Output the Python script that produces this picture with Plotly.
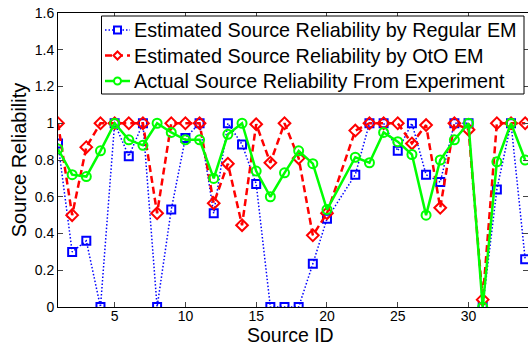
import plotly.graph_objects as go

source_id = [1, 2, 3, 4, 5, 6, 7, 8, 9, 10, 11, 12, 13, 14, 15, 16, 17, 18, 19, 20,
             22, 23, 24, 25, 26, 27, 28, 29, 30, 31, 32, 33, 34]

regular_em = [0.89, 0.30, 0.36, 0.00, 1.00, 0.82, 1.00, 0.00, 0.53, 0.92, 1.00, 0.51,
              1.00, 0.885, 0.67, 0.00, 0.00, 0.00, 0.235, 0.48,
              0.72, 1.00, 1.00, 0.85, 1.00, 0.72, 0.68, 1.00, 1.00, 0.00, 0.64, 1.00, 0.26]

oto_em = [1.00, 0.50, 0.87, 1.00, 1.00, 1.00, 1.00, 0.51, 1.00, 1.00, 1.00, 0.565,
          0.78, 0.445, 0.995, 0.785, 1.00, 0.81, 0.39, 0.51,
          0.96, 1.00, 1.00, 1.00, 0.89, 0.99, 0.54, 1.00, 0.965, 0.04, 1.00, 1.00, 1.00]

actual = [0.86, 0.72, 0.71, 0.85, 1.00, 0.91, 0.88, 1.00, 0.95, 0.91, 0.91, 0.70,
          0.94, 1.00, 0.74, 0.60, 0.73, 0.85, 0.78, 0.53,
          0.815, 0.785, 0.95, 0.90, 0.83, 0.50, 0.80, 0.91, 1.00, 0.00, 0.79, 1.00, 0.80]

x_ticks = [5, 10, 15, 20, 25, 30]
y_ticks = [0, 0.2, 0.4, 0.6, 0.8, 1.0, 1.2, 1.4, 1.6]
y_tick_labels = ["0", "0.2", "0.4", "0.6", "0.8", "1", "1.2", "1.4", "1.6"]

names = ["Estimated Source Reliability by Regular EM",
         "Estimated Source Reliability by OtO EM",
         "Actual Source Reliability From Experiment"]
x_title = "Source ID"
y_title = "Source Reliability"

FONT = "Liberation Sans, Arial, Helvetica, sans-serif"
BLUE, RED, GREEN = "rgb(0,0,255)", "rgb(255,0,0)", "rgb(0,255,0)"
DOT, DASH = "1.5px,2px", "7px,4px"

W, H = 528, 347
ML, MR, MT, MB = 58, 0, 13, 40
PW, PH = W - ML - MR, H - MT - MB


def px(x):
    return (x - ML) / PW


def py(y):
    return (H - MB - y) / PH


fig = go.Figure()
fig.add_trace(go.Scatter(
    x=source_id, y=regular_em, name=names[0], mode="lines+markers",
    line=dict(color=BLUE, width=1.5, dash=DOT),
    marker=dict(symbol="square-open", size=8, color=BLUE, line=dict(width=2))))
fig.add_trace(go.Scatter(
    x=source_id, y=oto_em, name=names[1], mode="lines+markers",
    line=dict(color=RED, width=2.5, dash=DASH),
    marker=dict(symbol="diamond-open", size=9, color=RED, line=dict(width=2))))
fig.add_trace(go.Scatter(
    x=source_id, y=actual, name=names[2], mode="lines+markers",
    line=dict(color=GREEN, width=2.5),
    marker=dict(symbol="circle-open", size=9, color=GREEN, line=dict(width=2))))

# legend drawn as shapes + annotations (MATLAB style, compact)
shapes = [dict(type="rect", xref="paper", yref="paper", layer="above",
               x0=px(101.5), x1=px(524), y0=py(94), y1=py(16),
               line=dict(color="black", width=1), fillcolor="white")]
annotations = []
rows = [30, 55.5, 81]
styles = [(BLUE, 1.5, DOT), (RED, 2.5, DASH), (GREEN, 2.5, "solid")]
for i, (ry, (col, lw, dsh)) in enumerate(zip(rows, styles)):
    shapes.append(dict(type="line", xref="paper", yref="paper", layer="above",
                       x0=px(105), x1=px(130), y0=py(ry), y1=py(ry),
                       line=dict(color=col, width=lw, dash=dsh)))
    cx, r = 117.5, 3.5
    if i == 0:
        shapes.append(dict(type="rect", xref="paper", yref="paper", layer="above",
                           x0=px(cx - r), x1=px(cx + r), y0=py(ry + r), y1=py(ry - r),
                           line=dict(color=col, width=2), fillcolor="white"))
    elif i == 1:
        path = "M {a},{b} L {c},{d} L {e},{b} L {c},{f} Z".format(
            a=px(cx - r - 0.5), b=py(ry), c=px(cx), d=py(ry - r - 0.5),
            e=px(cx + r + 0.5), f=py(ry + r + 0.5))
        shapes.append(dict(type="path", xref="paper", yref="paper", layer="above",
                           path=path, line=dict(color=col, width=2), fillcolor="white"))
    else:
        shapes.append(dict(type="circle", xref="paper", yref="paper", layer="above",
                           x0=px(cx - r), x1=px(cx + r), y0=py(ry + r), y1=py(ry - r),
                           line=dict(color=col, width=2), fillcolor="white"))
    annotations.append(dict(text=names[i], xref="paper", yref="paper",
                            x=px(131.5), y=py(ry), xanchor="left", yanchor="middle",
                            showarrow=False, font=dict(size=19.8, family=FONT, color="black")))

annotations.append(dict(text=x_title, xref="paper", yref="paper",
                        x=px(290), y=py(335), xanchor="center", yanchor="middle",
                        showarrow=False, font=dict(size=19.5, family=FONT, color="black")))

fig.update_layout(
    width=W, height=H,
    margin=dict(l=ML, r=MR, t=MT, b=MB),
    paper_bgcolor="white", plot_bgcolor="white",
    font=dict(family=FONT, color="black", size=14),
    showlegend=False,
    shapes=shapes, annotations=annotations,
    xaxis=dict(range=[1, 34.2], tickvals=x_ticks, ticks="inside", ticklen=5,
               showline=True, linecolor="black", linewidth=1, mirror="ticks",
               showgrid=False, zeroline=False, tickfont=dict(size=14),
               ticklabelstandoff=-4),
    yaxis=dict(range=[0, 1.6], tickvals=y_ticks, ticktext=y_tick_labels,
               ticks="inside", ticklen=5,
               showline=True, linecolor="black", linewidth=1, mirror="ticks",
               showgrid=False, zeroline=False, tickfont=dict(size=14),
               title=dict(text=y_title, font=dict(size=20), standoff=2)),
)

fig.write_html("out.html",
               config={"displayModeBar": False},
               post_script="document.body.style.margin='0';document.body.style.overflow='hidden';")
